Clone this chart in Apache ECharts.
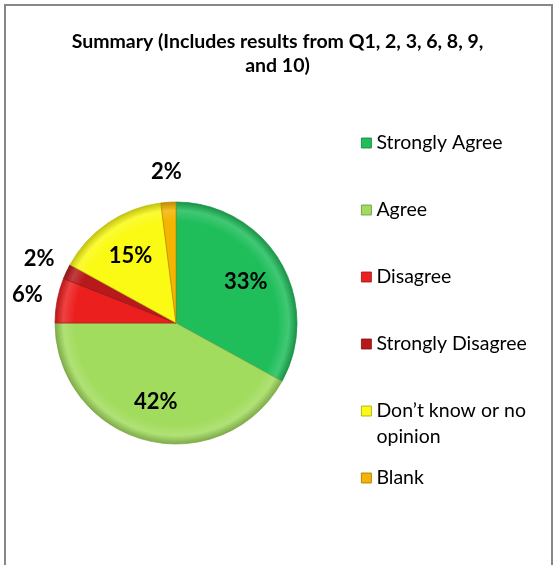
<!DOCTYPE html>
<html>
<head>
<meta charset="utf-8">
<title>Summary</title>
<script src="https://cdn.jsdelivr.net/npm/echarts@6/dist/echarts.min.js"></script>
<style>
  html, body { margin: 0; padding: 0; background: #ffffff; overflow: hidden; }
  #frame {
    position: absolute; left: 4px; top: 4px; width: 549px; height: 700px;
    box-sizing: border-box; border: 2px solid #878787;
  }
  #chart { position: absolute; left: 0; top: 0; width: 555px; height: 565px; }
</style>
</head>
<body>
<div id="frame"></div>
<div id="chart"></div>
<script>
// Survey summary data
const titleLines = ['Summary (Includes results from Q1, 2, 3, 6, 8, 9,', 'and 10)'];
const categories = ['Strongly Agree', 'Agree', 'Disagree', 'Strongly Disagree', 'Don\u2019t know or no opinion', 'Blank'];
const legendLabels = ['Strongly Agree', 'Agree', 'Disagree', 'Strongly Disagree', 'Don\u2019t know or no\nopinion', 'Blank'];
const percentages = [33, 42, 6, 2, 15, 2];
const sliceColors = ['#1fbe5b', '#a2dc5e', '#ec1f1f', '#b8191b', '#fafa14', '#f4b400'];

// Pie geometry
const CX = 176, CY = 323, R = 121;
const FONT = 'Lato, "Open Sans", sans-serif';

function shade(hex, f) {
  const n = parseInt(hex.slice(1), 16);
  let r = (n >> 16) & 255, g = (n >> 8) & 255, b = n & 255;
  const t = f < 0 ? 0 : 255, p = Math.abs(f);
  r = Math.round((t - r) * p + r);
  g = Math.round((t - g) * p + g);
  b = Math.round((t - b) * p + b);
  return 'rgb(' + r + ',' + g + ',' + b + ')';
}

// Soft bevel: slightly lighter band near the rim, darker outer edge
function sliceFill(c) {
  return new echarts.graphic.RadialGradient(CX, CY, R, [
    { offset: 0, color: c },
    { offset: 0.84, color: c },
    { offset: 0.93, color: shade(c, 0.15) },
    { offset: 1, color: shade(c, -0.22) }
  ], true);
}

const pieData = categories.map((name, i) => ({
  name: name,
  value: percentages[i],
  itemStyle: { color: sliceFill(sliceColors[i]), borderColor: shade(sliceColors[i], -0.25), borderWidth: 0.7 }
}));

// Invisible helper rings that only carry the value labels
function labelData(showFn) {
  return categories.map((name, i) => ({
    name: name,
    value: percentages[i],
    label: { show: showFn(percentages[i]) }
  }));
}
const labelText = {
  position: 'inside',
  formatter: '{c}%',
  color: '#000',
  fontFamily: FONT,
  fontWeight: 'bold',
  fontSize: 22
};

// Legend entries are laid out as three-line blocks so every row has the same
// height; the marker sits beside the middle line, and a wrapped entry starts there.
const LINE = 26;
const legendItems = categories.map((name, i) => ({
  name: name,
  itemStyle: { color: sliceColors[i], borderColor: shade(sliceColors[i], -0.35), borderWidth: 0.8 }
}));
function legendText(name) {
  const s = legendLabels[categories.indexOf(name)];
  return s.indexOf('\n') >= 0 ? '\n' + s : '\n' + s + '\n';
}

const chart = echarts.init(document.getElementById('chart'), null, { renderer: 'canvas' });
chart.setOption({
  backgroundColor: 'transparent',
  animation: false,
  title: {
    text: titleLines.join('\n'),
    left: 'center',
    top: 30,
    padding: 0,
    textStyle: { fontFamily: FONT, fontWeight: 'bold', fontSize: 19.5, lineHeight: 24, color: '#000' }
  },
  legend: {
    orient: 'vertical',
    left: 361,
    top: 104,
    padding: 0,
    itemGap: -11,
    itemWidth: 10,
    itemHeight: 10,
    icon: 'rect',
    selectedMode: false,
    data: legendItems,
    formatter: legendText,
    textStyle: {
      fontFamily: FONT,
      fontSize: 19.5,
      lineHeight: LINE,
      color: '#000'
    }
  },
  series: [
    {
      type: 'pie',
      center: [CX, CY],
      radius: R,
      startAngle: 90,
      clockwise: true,
      label: { show: false },
      labelLine: { show: false },
      emphasis: { disabled: true },
      data: pieData
    },
    {
      type: 'pie',
      center: [CX, CY],
      radius: [0, R * 1.29],
      startAngle: 90,
      silent: true,
      itemStyle: { color: 'rgba(0,0,0,0)' },
      label: labelText,
      labelLine: { show: false },
      emphasis: { disabled: true },
      data: labelData(v => v >= 10)
    },
    {
      type: 'pie',
      center: [CX, CY],
      radius: [0, R * 2.45],
      startAngle: 90,
      silent: true,
      itemStyle: { color: 'rgba(0,0,0,0)' },
      label: labelText,
      labelLine: { show: false },
      emphasis: { disabled: true },
      data: labelData(v => v < 10)
    }
  ]
});
</script>
</body>
</html>
